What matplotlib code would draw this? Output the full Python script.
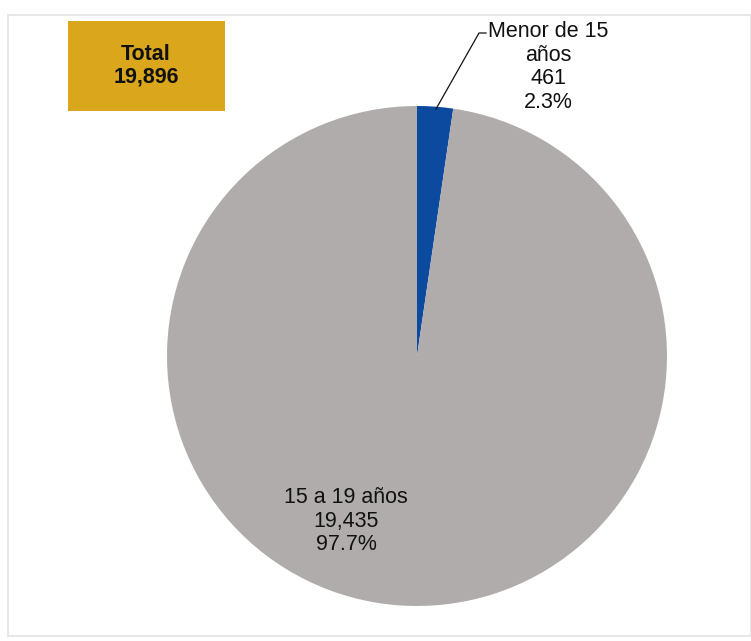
import matplotlib
matplotlib.use("Agg")
import matplotlib.pyplot as plt
from matplotlib.patches import Rectangle

categories = ["Menor de 15\naños", "15 a 19 años"]
values = [461, 19435]
percents = ["2.3%", "97.7%"]
total_label = "Total\n19,896"
colors = ["#0B4A9E", "#B1ACAC"]

plt.rcParams['font.family'] = ['Liberation Sans', 'DejaVu Sans']

W, H = 751, 641
fig = plt.figure(figsize=(W/100, H/100), dpi=100)
fig.patch.set_facecolor("white")

# frame
fig.patches.append(Rectangle((8/W, 5/H), (W-8)/W, (H-15-5)/H, transform=fig.transFigure,
                             fill=False, edgecolor="#E3E3E3", lw=1.2))

cx, cy, r = 417, 356, 250
ax = fig.add_axes([(cx-r)/W, (H-cy-r)/H, 2*r/W, 2*r/H])
wedges, _ = ax.pie(values, colors=colors, startangle=90, counterclock=False,
                   radius=1.0, wedgeprops=dict(linewidth=0))
ax.set_xlim(-1, 1); ax.set_ylim(-1, 1)
ax.set_aspect('equal')
ax.axis('off')

def fx(px): return px / W
def fy(py): return 1 - py / H

fig.text(fx(548), fy(67), f"{categories[0]}\n{values[0]:,}\n{percents[0]}", ha="center", va="center",
         fontsize=15.5, linespacing=1.17, color="#111111")
fig.text(fx(346), fy(521), f"{categories[1]}\n{values[1]:,}\n{percents[1]}", ha="center", va="center",
         fontsize=15.5, linespacing=1.17, color="#111111")

# leader line
fig.add_artist(plt.Line2D([fx(486), fx(479), fx(436)], [fy(33), fy(33), fy(109)],
                          transform=fig.transFigure, color="#111111", lw=0.9))

# total box
fig.patches.append(Rectangle((68/W, fy(111)), (225-68)/W, (111-21)/H, transform=fig.transFigure,
                             facecolor="#D9A61C", edgecolor="none"))
fig.text(fx(146), fy(66), total_label, ha="center", va="center", fontsize=15.5,
         fontweight="bold", linespacing=1.1, color="#111111")

fig.savefig("out.png", dpi=100, facecolor="white")
